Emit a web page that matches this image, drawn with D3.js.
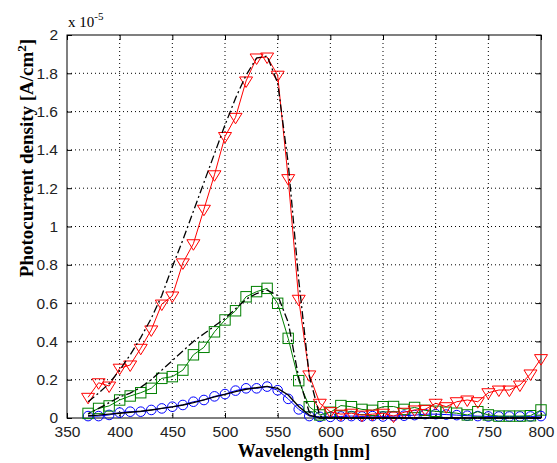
<!DOCTYPE html>
<html>
<head>
<meta charset="utf-8">
<script src="https://cdn.jsdelivr.net/npm/d3@7"></script>
<style>
  body { margin: 0; background: #fff; }
  svg { display: block; }
</style>
</head>
<body>
<div class="chart"></div>
<script>
var width = 557
var height = 463

// wavelengths in nm (10 nm steps)
var wavelengths = d3.range(370, 801, 10)

// measured photocurrent density, units of 1e-5 A/cm^2
var redData = [0.108, 0.184, 0.167, 0.26, 0.277, 0.364, 0.46, 0.595, 0.637, 0.81, 0.91,
    1.09, 1.27, 1.47, 1.57, 1.76, 1.88, 1.885, 1.79, 1.25, 0.62, 0.225, 0.077,
    0.033, 0.02, 0.025, 0.015, 0.02, 0.025, 0.01, 0.03, 0.042, 0.045,
    0.077, 0.059, 0.085, 0.094, 0.085, 0.132, 0.146, 0.146, 0.172, 0.23, 0.31]
var greenData = [0.024, 0.05, 0.063, 0.094, 0.115, 0.132, 0.155, 0.207, 0.216, 0.25, 0.33,
    0.369, 0.45, 0.512, 0.56, 0.633, 0.66, 0.677, 0.599, 0.416, 0.195, 0.059, 0.016,
    0.03, 0.065, 0.059, 0.045, 0.04, 0.059, 0.06, 0.045, 0.055, 0.04,
    0.035, 0.03, 0.025, 0.016, 0.033, 0.016, 0.01, 0.01, 0.01, 0.012, 0.042]
var blueData = [0.01, 0.01, 0.016, 0.028, 0.033, 0.033, 0.042, 0.05, 0.059, 0.068, 0.085,
    0.094, 0.113, 0.125, 0.143, 0.155, 0.155, 0.164, 0.145, 0.1, 0.045, 0.01, 0.006,
    0.006, 0.008, 0.01, 0.008, 0.01, 0.008, 0.01, 0.012, 0.015, 0.02,
    0.02, 0.018, 0.015, 0.012, 0.01, 0.008, 0.008, 0.008, 0.008, 0.008, 0.01]

// model curves (black)
var redModel = [0.085, 0.13, 0.18, 0.25, 0.33, 0.42, 0.52, 0.64, 0.79, 0.93, 1.08,
    1.23, 1.38, 1.53, 1.67, 1.79, 1.88, 1.89, 1.75, 1.33, 0.72, 0.22, 0.01,
    0, 0, 0, 0, 0, 0, 0, 0, 0, 0, 0, 0, 0, 0, 0, 0, 0, 0, 0, 0, 0]
var greenModel = [0.02, 0.05, 0.08, 0.11, 0.13, 0.16, 0.2, 0.25, 0.3, 0.35, 0.4,
    0.44, 0.48, 0.52, 0.57, 0.62, 0.65, 0.668, 0.64, 0.5, 0.21, 0.03, 0,
    0, 0, 0, 0, 0, 0, 0, 0, 0, 0, 0, 0, 0, 0, 0, 0, 0, 0, 0, 0, 0]
var blueModel = [0.012, 0.015, 0.02, 0.025, 0.03, 0.035, 0.042, 0.05, 0.058, 0.068, 0.08,
    0.095, 0.11, 0.123, 0.138, 0.15, 0.158, 0.165, 0.155, 0.12, 0.06, 0.015, 0,
    0, 0, 0, 0, 0, 0, 0, 0, 0, 0, 0, 0, 0, 0, 0, 0, 0, 0, 0, 0, 0]

var xTicks = [350, 400, 450, 500, 550, 600, 650, 700, 750, 800]
var yTicks = [0, 0.2, 0.4, 0.6, 0.8, 1, 1.2, 1.4, 1.6, 1.8, 2]

var margin = { top: 35, right: 16, bottom: 45, left: 67 }
var plotW = width - margin.left - margin.right
var plotH = height - margin.top - margin.bottom

var svg = d3.select('.chart').append('svg')
    .attr('width', width)
    .attr('height', height)

var g = svg.append('g')
    .attr('transform', 'translate(' + margin.left + ',' + margin.top + ')')

var x = d3.scaleLinear().domain([350, 800]).range([0, plotW])
var y = d3.scaleLinear().domain([0, 2]).range([plotH, 0])

// grid
g.append('g').selectAll('line')
    .data(xTicks.slice(1, -1))
    .enter().append('line')
    .attr('x1', function (d) { return x(d) }).attr('x2', function (d) { return x(d) })
    .attr('y1', 0).attr('y2', plotH)
    .attr('stroke', '#000').attr('stroke-width', 1)
    .attr('stroke-dasharray', '1,3')
g.append('g').selectAll('line')
    .data(yTicks.slice(1, -1))
    .enter().append('line')
    .attr('y1', function (d) { return y(d) }).attr('y2', function (d) { return y(d) })
    .attr('x1', 0).attr('x2', plotW)
    .attr('stroke', '#000').attr('stroke-width', 1)
    .attr('stroke-dasharray', '1,3')

var xAxis = d3.axisBottom(x).tickValues(xTicks).tickSizeInner(-5).tickSizeOuter(0).tickPadding(8)
var yAxis = d3.axisLeft(y).tickValues(yTicks).tickSizeInner(-5).tickSizeOuter(0).tickPadding(9)
    .tickFormat(function (d) { return d3.format('~g')(d) })

g.append('g').attr('transform', 'translate(0,' + plotH + ')').call(xAxis)
g.append('g').call(yAxis)
// top / right ticks
g.append('g').call(d3.axisTop(x).tickValues(xTicks).tickSizeInner(-5).tickSizeOuter(0).tickFormat(''))
g.append('g').attr('transform', 'translate(' + plotW + ',0)')
    .call(d3.axisRight(y).tickValues(yTicks).tickSizeInner(-5).tickSizeOuter(0).tickFormat(''))

svg.selectAll('.tick text')
    .attr('font-family', 'Liberation Sans, Arial, sans-serif')
    .attr('font-size', 15.5)
    .attr('fill', '#222')
svg.selectAll('.domain').remove()
svg.selectAll('.tick line').attr('stroke', '#000')

g.append('rect')
    .attr('width', plotW).attr('height', plotH)
    .attr('fill', 'none').attr('stroke', '#000').attr('stroke-width', 1)

var line = d3.line()
    .x(function (d) { return x(d[0]) })
    .y(function (d) { return y(d[1]) })

function pairs(vals) {
    return wavelengths.map(function (w, i) { return [w, vals[i]] })
}

var series = [
    { vals: blueData, color: '#0000ff', shape: 'circle' },
    { vals: greenData, color: '#008000', shape: 'square' },
    { vals: redData, color: '#ff0000', shape: 'tri' }
]

series.forEach(function (s) {
    var pts = pairs(s.vals)
    g.append('path')
        .datum(pts)
        .attr('d', line)
        .attr('fill', 'none')
        .attr('stroke', s.color)
        .attr('stroke-width', 1)
    var m = g.append('g').selectAll('.m').data(pts).enter()
    if (s.shape === 'circle') {
        m.append('circle')
            .attr('cx', function (d) { return x(d[0]) })
            .attr('cy', function (d) { return y(d[1]) })
            .attr('r', 4.8)
            .attr('fill', 'none').attr('stroke', s.color).attr('stroke-width', 1)
    } else if (s.shape === 'square') {
        m.append('rect')
            .attr('x', function (d) { return x(d[0]) - 5.2 })
            .attr('y', function (d) { return y(d[1]) - 5.2 })
            .attr('width', 10.4).attr('height', 10.4)
            .attr('fill', 'none').attr('stroke', s.color).attr('stroke-width', 1)
    } else {
        m.append('path')
            .attr('transform', function (d) { return 'translate(' + x(d[0]) + ',' + y(d[1]) + ')' })
            .attr('d', 'M-6.5,-4L6.5,-4L0,6.5Z')
            .attr('fill', 'none').attr('stroke', s.color).attr('stroke-width', 1)
    }
})

// model curves: red and green dash-dot, blue solid
var models = [
    { vals: redModel, dash: '8,3,2,3', w: 1.3 },
    { vals: greenModel, dash: '8,3,2,3', w: 1.3 },
    { vals: blueModel, dash: null, w: 1.4 }
]
models.forEach(function (md, i) {
    g.append('path')
        .datum(pairs(md.vals))
        .attr('d', line)
        .attr('fill', 'none')
        .attr('stroke', '#000')
        .attr('stroke-width', md.w)
        .attr('stroke-dasharray', md.dash)
        .attr('stroke-dashoffset', i * 5)
})

// exponent label
var ex = svg.append('text')
    .attr('x', 68).attr('y', 27)
    .attr('font-family', 'Liberation Serif, Times New Roman, serif')
    .attr('font-size', 15)
ex.append('tspan').text('x 10')
ex.append('tspan').attr('dy', -7).attr('font-size', 11).text('-5')

// axis labels
svg.append('text')
    .attr('x', margin.left + plotW / 2).attr('y', 457)
    .attr('text-anchor', 'middle')
    .attr('font-family', 'Liberation Serif, Times New Roman, serif')
    .attr('font-size', 18)
    .attr('font-weight', 'bold')
    .text('Wavelength [nm]')

var yl = svg.append('text')
    .attr('transform', 'translate(33,158) rotate(-90)')
    .attr('text-anchor', 'middle')
    .attr('font-family', 'Liberation Serif, Times New Roman, serif')
    .attr('font-size', 19)
    .attr('font-weight', 'bold')
yl.append('tspan').text('Photocurrent density [A/cm')
yl.append('tspan').attr('dy', -7).attr('font-size', 13).text('2')
yl.append('tspan').attr('dy', 7).text(']')
</script>
</body>
</html>
